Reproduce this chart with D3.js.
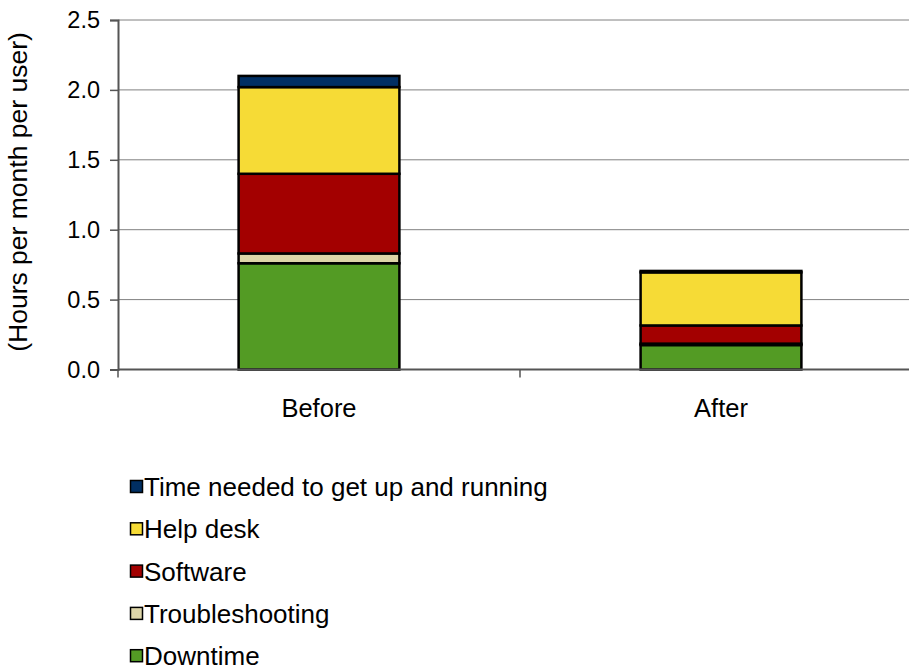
<!DOCTYPE html>
<html>
<head>
<meta charset="utf-8">
<script src="https://cdn.jsdelivr.net/npm/d3@7"></script>
<style>
  html, body { margin: 0; padding: 0; background: #fff; }
  svg { display: block; font-family: "Liberation Sans", Arial, sans-serif; }
</style>
</head>
<body>
<svg id="chart" width="909" height="670"></svg>
<script>
// Periods compared
const categories = ["Before", "After"];
// Stack order, bottom to top
const seriesNames = ["Downtime", "Troubleshooting", "Software", "Help desk", "Time needed to get up and running"];
const seriesColors = ["#539b24", "#ddd5a8", "#a30000", "#f6db36", "#012f63"];
// Hours per month per user, one array per series (Before, After)
const downtime        = [0.76, 0.175];
const troubleshooting = [0.07, 0.01];
const software        = [0.57, 0.13];
const helpDesk        = [0.62, 0.38];
const timeToRunning   = [0.08, 0.01];
const yTicks = [0, 0.5, 1.0, 1.5, 2.0, 2.5];
const yTitle = "(Hours per month per user)";

const seriesValues = [downtime, troubleshooting, software, helpDesk, timeToRunning];
const table = categories.map((c, i) => {
  const row = { category: c };
  seriesNames.forEach((s, k) => { row[s] = seriesValues[k][i]; });
  return row;
});

const svg = d3.select("#chart");
const plot = { left: 118, right: 922, top: 20, bottom: 369.5 };

const x = d3.scaleBand().domain(categories).range([plot.left, plot.right]).paddingInner(0.6).paddingOuter(0.3);
const xOuter = d3.scaleBand().domain(categories).range([plot.left, plot.right]);
const y = d3.scaleLinear().domain([0, 2.5]).range([plot.bottom, plot.top]);

// Horizontal gridlines
svg.append("g")
  .selectAll("line")
  .data(yTicks.filter(t => t > 0))
  .join("line")
  .attr("x1", plot.left).attr("x2", 909)
  .attr("y1", d => y(d)).attr("y2", d => y(d))
  .attr("stroke", "#808080").attr("stroke-width", 1);

// Stacked bars
const stack = d3.stack().keys(seriesNames);
const layers = stack(table);
const barG = svg.append("g");
layers.forEach((layer, k) => {
  barG.append("g")
    .selectAll("rect")
    .data(layer)
    .join("rect")
    .attr("x", d => x(d.data.category))
    .attr("width", x.bandwidth())
    .attr("y", d => y(d[1]))
    .attr("height", d => y(d[0]) - y(d[1]))
    .attr("fill", seriesColors[k])
    .attr("stroke", "#000")
    .attr("stroke-width", 2.5);
});

// Y axis
const yAxis = svg.append("g")
  .attr("transform", `translate(${plot.left},0)`)
  .call(d3.axisLeft(y).tickValues(yTicks).tickFormat(d3.format(".1f")).tickSize(8).tickPadding(10));
yAxis.select(".domain").attr("stroke", "#555").attr("stroke-width", 2);
yAxis.selectAll(".tick line").attr("stroke", "#555").attr("stroke-width", 1.5);
yAxis.selectAll(".tick text").attr("font-size", 23.5).attr("fill", "#000")
  .attr("font-family", "Liberation Sans, Arial, sans-serif");

// X axis line with ticks at category boundaries
const xAxisG = svg.append("g");
xAxisG.append("line")
  .attr("x1", plot.left).attr("x2", 909)
  .attr("y1", plot.bottom).attr("y2", plot.bottom)
  .attr("stroke", "#555").attr("stroke-width", 2);
const boundaries = categories.map(c => xOuter(c)).concat([xOuter(categories[categories.length - 1]) + xOuter.bandwidth()]);
xAxisG.selectAll("line.tk")
  .data(boundaries)
  .join("line")
  .attr("class", "tk")
  .attr("x1", d => d).attr("x2", d => d)
  .attr("y1", plot.bottom).attr("y2", plot.bottom + 8)
  .attr("stroke", "#555").attr("stroke-width", 1.5);
xAxisG.selectAll("text")
  .data(categories)
  .join("text")
  .attr("x", d => xOuter(d) + xOuter.bandwidth() / 2)
  .attr("y", 417)
  .attr("text-anchor", "middle")
  .attr("font-size", 25.5)
  .text(d => d);

// Y axis title
svg.append("text")
  .attr("transform", `translate(27,192) rotate(-90)`)
  .attr("text-anchor", "middle")
  .attr("font-size", 26.5)
  .text(yTitle);

// Legend, top entry is the top of the stack
const legendItems = seriesNames.map((s, k) => ({ name: s, color: seriesColors[k] })).reverse();
const legend = svg.append("g").attr("transform", "translate(130,0)");
const rows = legend.selectAll("g")
  .data(legendItems)
  .join("g")
  .attr("transform", (d, i) => `translate(0,${487 + i * 42.3})`);
rows.append("rect")
  .attr("x", 0.5).attr("y", -6.5)
  .attr("width", 12).attr("height", 12)
  .attr("fill", d => d.color)
  .attr("stroke", "#000").attr("stroke-width", 1.5);
rows.append("text")
  .attr("x", 14)
  .attr("y", 0)
  .attr("dy", "0.35em")
  .attr("font-size", 26)
  .text(d => d.name);
</script>
</body>
</html>
